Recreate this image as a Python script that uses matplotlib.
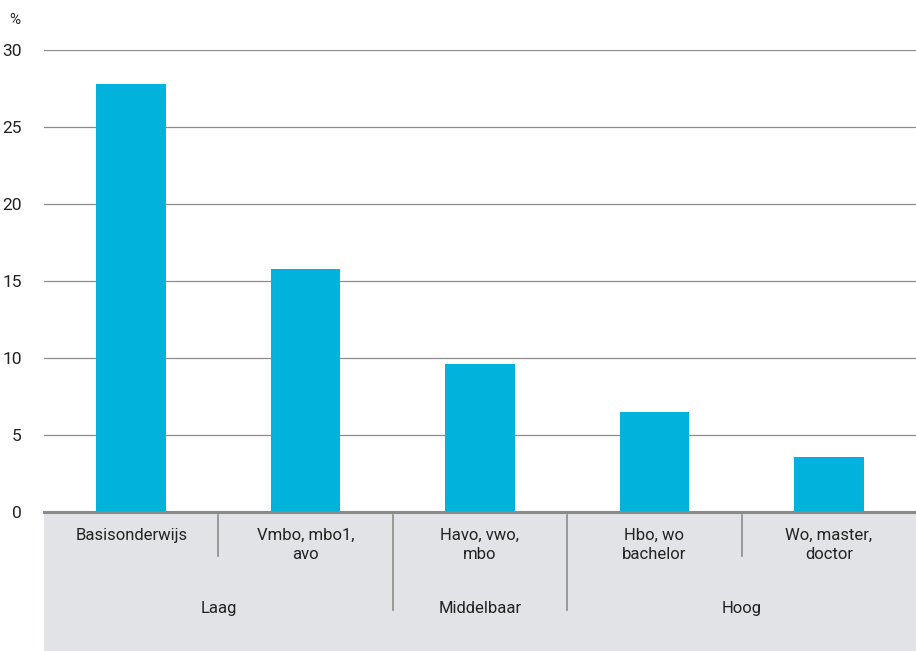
import numpy as np
import matplotlib.pyplot as plt
from matplotlib.patches import Rectangle

categories = ["Basisonderwijs", "Vmbo, mbo1,\navo", "Havo, vwo,\nmbo", "Hbo, wo\nbachelor", "Wo, master,\ndoctor"]
values = [27.8, 15.8, 9.6, 6.5, 3.6]
groups = ["Laag", "Middelbaar", "Hoog"]
group_spans = [(0, 1), (2, 2), (3, 4)]
yticks = [0, 5, 10, 15, 20, 25, 30]

plt.rcParams['font.family'] = ['Roboto', 'DejaVu Sans']
blue = "#00b2dc"
grey_bg = "#e2e3e6"
txt = "#222222"

fig = plt.figure(figsize=(9.16, 6.51), dpi=100)
ax = fig.add_axes([44/916, 139/651, 872/916, 462/651])

# grey category area below the axis
fig.patches.append(Rectangle((44/916, 0), 872/916, 139/651, transform=fig.transFigure,
                             facecolor=grey_bg, edgecolor="none", zorder=-5))

xx = np.arange(len(categories))
ax.bar(xx, values, width=0.4, color=blue, zorder=3)

ax.set_xlim(-0.5, len(categories) - 0.5)
ax.set_ylim(0, 30)
ax.set_yticks(yticks)
ax.set_yticklabels([str(v) for v in yticks], fontsize=12.5, color=txt)
ax.tick_params(axis='y', length=0, pad=16)
ax.set_xticks([])
ax.grid(axis='y', color="#8c8c8c", linewidth=0.9, zorder=1)
for s in ["left", "right", "top"]:
    ax.spines[s].set_visible(False)
ax.spines["bottom"].set_color("#8a8a8a")
ax.spines["bottom"].set_linewidth(2.2)
ax.spines["bottom"].set_zorder(4)

tr = ax.get_xaxis_transform()
for i, lab in enumerate(categories):
    ax.text(i, -0.035, lab, transform=tr, ha='center', va='top', fontsize=12,
            color=txt, linespacing=1.3)

# separators: short within a group, long between groups
for i in range(len(categories) - 1):
    between = any(s[1] == i for s in group_spans)
    y_end = -0.212 if between else -0.095
    ax.plot([i + 0.5, i + 0.5], [-0.006, y_end], transform=tr, color="#8c8c8c",
            linewidth=1.2, clip_on=False)

for g, (a, b) in zip(groups, group_spans):
    ax.text((a + b) / 2, -0.208, g, transform=tr, ha='center', va='center',
            fontsize=12, color=txt)

fig.text(9/916, 1 - 20/651, "%", ha='left', va='center', fontsize=11, color=txt)

plt.savefig("out.png", dpi=100)
